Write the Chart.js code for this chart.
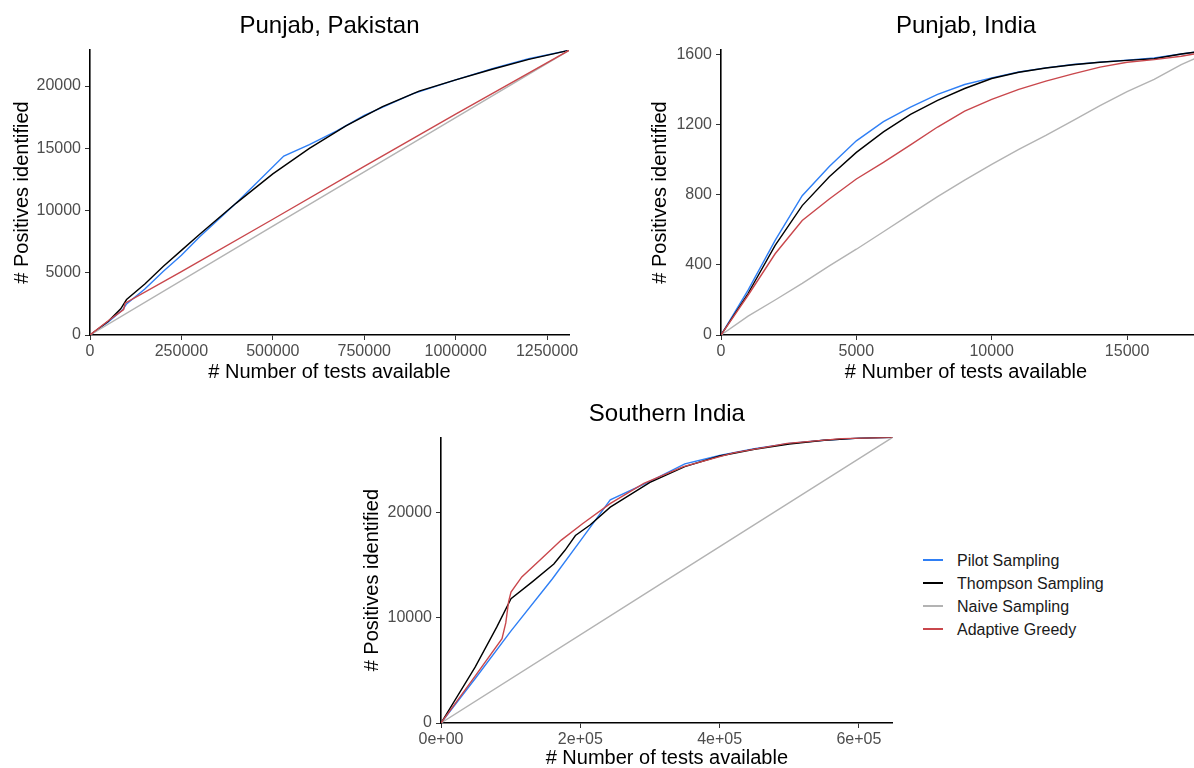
<!DOCTYPE html>
<html>
<head>
<meta charset="utf-8">
<title>Positives identified vs tests available</title>
<script src="https://cdn.jsdelivr.net/npm/chart.js@4.4.1/dist/chart.umd.min.js"></script>
<style>
  body {
    margin: 0;
    width: 1194px;
    height: 768px;
    overflow: hidden;
    position: relative;
    background: #fff;
    font-family: 'Liberation Sans', Arial, sans-serif;
  }
  canvas { position: absolute; }
  #legend { position: absolute; left: 923px; top: 549px; z-index: 2; }
  #legend .row { position: absolute; left: 0; height: 23px; width: 220px; }
  #legend .key { position: absolute; left: 0; top: 10px; width: 20px; height: 2px; }
  #legend .label { position: absolute; left: 34px; top: 2px; font-size: 16px; line-height: 19px; color: #1a1a1a; white-space: nowrap; }
</style>
</head>
<body>
<canvas id="pakChart" width="600" height="385" style="left:0;top:0"></canvas>
<canvas id="indChart" width="611" height="385" style="left:620px;top:0"></canvas>
<canvas id="southChart" width="580" height="383" style="left:340px;top:390px"></canvas>
<div id="legend"></div>

<script>
// series names / colours (legend order)
const seriesNames = ['Pilot Sampling', 'Thompson Sampling', 'Naive Sampling', 'Adaptive Greedy'];
const seriesColors = ['#2f7ff5', '#000000', '#b3b3b3', '#c9474c'];

// Punjab, Pakistan  [tests, positives]
const pakPilot = [[0,0],[50000,1050],[90000,2050],[100000,2500],[150000,3700],[200000,5100],[250000,6400],[300000,7900],[400000,10600],[530000,14380],[600000,15300],[675000,16400],[750000,17650],[884000,19400],[1000000,20500],[1100000,21400],[1200000,22200],[1310000,22870]];
const pakThompson = [[0,0],[50000,1100],[84000,2100],[100000,2850],[150000,4100],[200000,5500],[250000,6800],[300000,8100],[400000,10600],[500000,12950],[600000,15000],[700000,16800],[800000,18350],[900000,19600],[1000000,20500],[1100000,21350],[1200000,22150],[1310000,22870]];
const pakNaive = [[0,0],[500000,8750],[1000000,17470],[1310000,22870]];
const pakGreedy = [[0,0],[50000,1150],[85000,1900],[92000,2050],[96000,2550],[250000,5100],[500000,9300],[750000,13550],[1000000,17750],[1310000,22870]];

// Punjab, India
const indPilot = [[0,0],[1000,256],[2000,540],[3000,796],[4000,963],[5000,1109],[6000,1219],[7000,1302],[8000,1374],[9000,1431],[10000,1469],[11000,1502],[12000,1526],[13000,1545],[14000,1559],[15000,1570],[16000,1582],[17000,1605],[18100,1628]];
const indThompson = [[0,0],[1000,237],[2000,512],[3000,739],[4000,904],[5000,1043],[6000,1160],[7000,1260],[8000,1340],[9000,1408],[10000,1465],[11000,1501],[12000,1525],[13000,1544],[14000,1558],[15000,1569],[16000,1578],[17000,1605],[18100,1628]];
const indNaive = [[0,0],[1000,108],[2000,200],[3000,295],[4000,395],[5000,490],[6000,590],[7000,690],[8000,790],[9000,885],[10000,975],[11000,1060],[12000,1140],[13000,1225],[14000,1310],[15000,1390],[16000,1460],[17000,1545],[18100,1620]];
const indGreedy = [[0,0],[1000,227],[2000,464],[3000,654],[4000,777],[5000,891],[6000,986],[7000,1086],[8000,1188],[9000,1279],[10000,1346],[11000,1403],[12000,1450],[13000,1492],[14000,1530],[15000,1558],[16000,1573],[17000,1592],[18100,1622]];

// Southern India
const southPilot = [[0,0],[50000,4300],[100000,8700],[160000,13700],[200000,17300],[243000,21200],[300000,22950],[350000,24600],[400000,25400],[450000,26050],[500000,26550],[550000,26850],[600000,27050],[648500,27130]];
const southThompson = [[0,0],[49000,5300],[80000,9100],[100500,11800],[131000,13400],[162000,15100],[178000,16400],[193000,17800],[214000,18800],[243000,20500],[300000,22850],[350000,24350],[400000,25350],[450000,26000],[500000,26500],[550000,26850],[600000,27050],[648500,27130]];
const southNaive = [[0,0],[324000,13560],[648500,27130]];
const southGreedy = [[0,0],[49000,4450],[87600,8000],[93000,9500],[97000,11500],[100500,12440],[116000,13870],[141800,15460],[172700,17370],[203600,18950],[243300,20860],[291200,22760],[348000,24350],[420000,25650],[497000,26550],[575000,27000],[648500,27130]];

// axis ranges
const pakXMax = 1310000, pakYMax = 22900;
const indXMax = 18100, indYMax = 1628;
const southXMax = 648500, southYMax = 27130;

// tick values
const pakXTicks = [0, 250000, 500000, 750000, 1000000, 1250000];
const pakYTicks = [0, 5000, 10000, 15000, 20000];
const indXTicks = [0, 5000, 10000, 15000];
const indYTicks = [0, 400, 800, 1200, 1600];
const southXTicks = [0, 200000, 400000, 600000];
const southYTicks = [0, 10000, 20000];

const xTitle = '# Number of tests available';
const yTitle = '# Positives identified';

Chart.defaults.font.family = "'Liberation Sans', Arial, sans-serif";

function plain(v) { return String(v); }
function sci(v) {
    // R style: 2e+05
    return v.toExponential(0).replace(/e([+-])(\d)$/, 'e$10$2');
}

function buildDatasets(series) {
    return series.map((pts, i) => ({
        label: seriesNames[i],
        data: pts.map(p => ({ x: p[0], y: p[1] })),
        borderColor: seriesColors[i],
        borderWidth: 1.4,
        pointRadius: 0,
        tension: 0,
        fill: false,
        order: 4 - i
    }));
}

function fixedTicks(values) {
    return scale => { scale.ticks = values.map(v => ({ value: v })); };
}

function makeChart(id, cfg) {
    const tickFont = { size: 16 };
    const axisGrid = { drawOnChartArea: false, drawTicks: true, tickLength: 5, color: '#333', lineWidth: 1 };
    const axisBorder = { display: true, color: '#000', width: 1.6 };
    return new Chart(document.getElementById(id), {
        type: 'line',
        data: { datasets: buildDatasets(cfg.series) },
        options: {
            responsive: false,
            animation: false,
            devicePixelRatio: 1,
            layout: { padding: { left: 0, right: cfg.padRight, top: 0, bottom: 0 } },
            plugins: {
                legend: { display: false },
                tooltip: { enabled: false },
                title: {
                    display: true,
                    text: cfg.title,
                    fullSize: false,
                    color: '#000',
                    font: { size: 24, weight: 'normal' },
                    padding: { top: cfg.titleTop, bottom: cfg.titleBottom }
                }
            },
            scales: {
                x: {
                    type: 'linear',
                    min: 0,
                    max: cfg.xMax,
                    afterBuildTicks: fixedTicks(cfg.xTicks),
                    ticks: {
                        autoSkip: false,
                        maxRotation: 0,
                        color: '#4d4d4d',
                        font: tickFont,
                        padding: 2,
                        callback: cfg.xFormat
                    },
                    grid: axisGrid,
                    border: axisBorder,
                    title: { display: true, text: xTitle, color: '#000', font: { size: 20 }, padding: { top: 0, bottom: cfg.xTitlePad } },
                    afterFit: s => { s.height = 50; }
                },
                y: {
                    type: 'linear',
                    min: 0,
                    max: cfg.yMax,
                    afterBuildTicks: fixedTicks(cfg.yTicks),
                    ticks: {
                        autoSkip: false,
                        color: '#4d4d4d',
                        font: tickFont,
                        padding: 4,
                        callback: plain
                    },
                    grid: axisGrid,
                    border: axisBorder,
                    title: { display: true, text: yTitle, color: '#000', font: { size: 20 }, padding: { top: cfg.yTitlePad, bottom: 0 } },
                    afterFit: s => { s.width = cfg.yWidth; }
                }
            }
        }
    });
}

makeChart('pakChart', {
    title: 'Punjab, Pakistan',
    series: [pakPilot, pakThompson, pakNaive, pakGreedy],
    xMax: pakXMax, yMax: pakYMax, xTicks: pakXTicks, yTicks: pakYTicks, xFormat: plain,
    yWidth: 90, padRight: 31,
    titleTop: 11.6, titleBottom: 9.6,
    xTitlePad: 1, yTitlePad: 10
});

makeChart('indChart', {
    title: 'Punjab, India',
    series: [indPilot, indThompson, indNaive, indGreedy],
    xMax: indXMax, yMax: indYMax, xTicks: indXTicks, yTicks: indYTicks, xFormat: plain,
    yWidth: 101, padRight: 20,
    titleTop: 11.6, titleBottom: 9.6,
    xTitlePad: 1, yTitlePad: 28
});

makeChart('southChart', {
    title: 'Southern India',
    series: [southPilot, southThompson, southNaive, southGreedy],
    xMax: southXMax, yMax: southYMax, xTicks: southXTicks, yTicks: southYTicks, xFormat: sci,
    yWidth: 101, padRight: 27.3,
    titleTop: 9.6, titleBottom: 8.9,
    xTitlePad: 2.7, yTitlePad: 20
});

// legend
const legendEl = document.getElementById('legend');
seriesNames.forEach((name, i) => {
    const row = document.createElement('div');
    row.className = 'row';
    row.style.top = (i * 23) + 'px';
    const key = document.createElement('span');
    key.className = 'key';
    key.style.background = seriesColors[i];
    const label = document.createElement('span');
    label.className = 'label';
    label.textContent = name;
    row.appendChild(key);
    row.appendChild(label);
    legendEl.appendChild(row);
});
</script>
</body>
</html>
